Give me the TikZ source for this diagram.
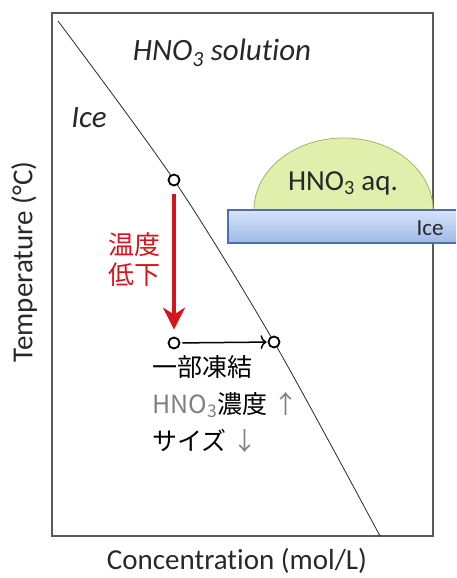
\documentclass[tikz,border=0pt]{standalone}
\usepackage{fontspec}
\setmainfont{Carlito}[Ligatures=NoCommon]
\newfontfamily\jpfont{Noto Sans CJK JP}
\usetikzlibrary{arrows.meta}
\definecolor{xred}{RGB}{212,22,28}
\definecolor{xgreen}{RGB}{224,240,172}
\definecolor{xgreenline}{RGB}{160,182,100}
\definecolor{xbluetop}{RGB}{214,227,250}
\definecolor{xbluebot}{RGB}{158,186,232}
\definecolor{xblueline}{RGB}{80,110,172}
\definecolor{xtext}{RGB}{40,40,40}

\begin{document}
\begin{tikzpicture}[x=1pt,y=-1pt]
\tikzset{pt/.style={circle,draw,line width=1.8pt,fill=white,inner sep=0pt,minimum size=11pt}}
\tikzset{jp/.style={font=\jpfont\fontsize{25}{37}\selectfont}}
\tikzset{lbl/.style={font=\fontsize{#1}{#1}\selectfont,inner sep=0pt}}
\useasboundingbox (0,0) rectangle (456,578);
\draw[gray!70!black,line width=1.4pt] (52,13) rectangle (433,536);
% liquidus curve
\coordinate (c0) at (58,21);
\coordinate (c1) at (174,180);
\coordinate (c2) at (274,342);
\coordinate (c3) at (380,536);
\draw[line width=0.8pt,xtext] plot[smooth] coordinates {(c0) (c1) (c2) (c3)};
\node[lbl=31,font=\itshape\fontsize{31}{31}\selectfont,text=xtext] (sol) at (222,53) {HNO\textsubscript{3} solution};
\node[lbl=31,font=\itshape\fontsize{31}{31}\selectfont,text=xtext] (icel) at (89,118) {Ice};
% droplet on ice
\fill[xgreen,draw=xgreenline,line width=0.8pt] (254,210) arc[start angle=180,end angle=0,x radius=89.5pt,y radius=72pt];
\node[lbl=29,text=xtext] (aq) at (343,183) {HNO\textsubscript{3} aq.};
\shade[top color=xbluetop,bottom color=xbluebot] (228,210) rectangle (456,243);
\draw[xblueline,line width=1.2pt] (456,210) -- (228,210) -- (228,243) -- (456,243);
\node[lbl=23,text=xtext] (icebar) at (430,228) {Ice};
% states
\node[pt] (p1) at (c1) {};
\node[pt] (p2) at (174,343) {};
\node[pt] (p3) at (c2) {};
\draw[xred,line width=4pt,-{Stealth[length=22pt,width=22pt,inset=7pt]},shorten <=8pt,shorten >=7pt] (p1) -- (p2);
\draw[line width=1.5pt,-{To[length=6pt,width=14pt]},shorten <=2pt,shorten >=1pt] (p2) -- (p3);
\node[jp,text=xred,align=right,anchor=east,font=\jpfont\fontsize{26}{30}\selectfont] (drop) at (164,260) {温度\\低下};
\node[jp,align=left,anchor=north west] (freeze) at (149,352) {一部凍結\\{\color{gray}HNO\textsubscript{3}}濃度 {\color{gray}↑}\\サイズ {\color{gray}↓}};
% axes
\node[lbl=29,rotate=90,text=xtext] (ylab) at (24,262) {Temperature (\textdegree C)};
\node[lbl=29,anchor=base,text=xtext] (xlab) at (237,569) {Concentration (mol/L)};
\end{tikzpicture}
\end{document}
